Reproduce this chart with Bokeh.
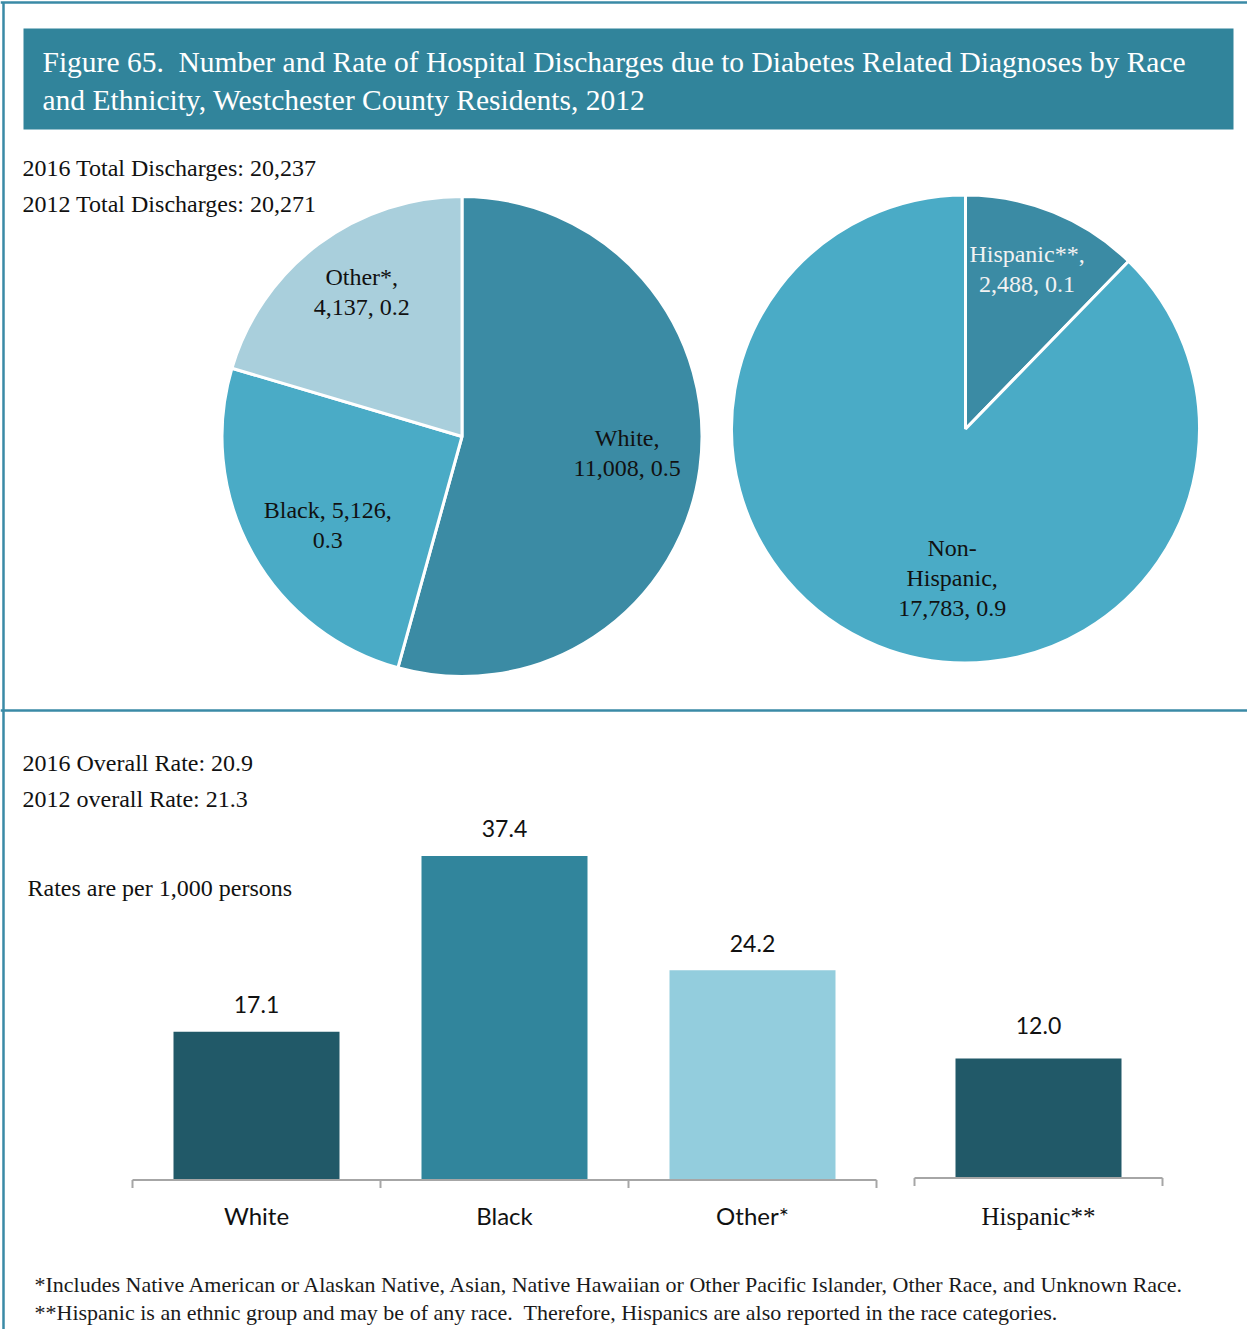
import math
import textwrap
from bokeh.plotting import figure
from bokeh.models import Range1d
from bokeh.core.properties import value
from bokeh.embed import file_html
from bokeh.resources import INLINE

# ---------------- data ----------------
TITLE_LINES = [
    "Figure 65.\u00a0 Number and Rate of Hospital Discharges due to Diabetes Related Diagnoses by Race",
    "and Ethnicity, Westchester County Residents, 2012",
]
TOTAL_LINES = ["2016 Total Discharges: 20,237", "2012 Total Discharges: 20,271"]
RATE_LINES = ["2016 Overall Rate: 20.9", "2012 overall Rate: 21.3"]
RATE_NOTE = "Rates are per 1,000 persons"
FOOTNOTES = [
    "*Includes Native American or Alaskan Native, Asian, Native Hawaiian or Other Pacific Islander, Other Race, and Unknown Race.",
    "**Hispanic is an ethnic group and may be of any race.\u00a0 Therefore, Hispanics are also reported in the race categories.",
]

race_names = ["White", "Black", "Other*"]
race_counts = [11008, 5126, 4137]

eth_names = ["Hispanic**", "Non-Hispanic"]
eth_counts = [2488, 17783]

bar_cats = ["White", "Black", "Other*", "Hispanic**"]
bar_groups = ["race", "race", "race", "ethnicity"]
bar_rates = [17.1, 37.4, 24.2, 12.0]

# ---------------- layout / style ----------------
W, H = 1247, 1329
SERIF = value("Liberation Serif")
SANS = value("Lato")
TEAL = "#31849b"


def X(sx):
    return sx


def Y(sy):
    return H - sy


p = figure(width=W, height=H, x_range=Range1d(0, W), y_range=Range1d(0, H),
           output_backend="svg", toolbar_location=None, min_border=0,
           x_axis_location=None, y_axis_location=None)
p.grid.visible = False
p.outline_line_color = None
p.background_fill_color = "white"

# frame lines
p.segment(x0=[0, 3, 0], y0=[Y(2), 0, Y(710)], x1=[W, 3, W], y1=[Y(2), Y(2), Y(710)],
          line_color="#3a8aa6", line_width=2.5)

# title bar
p.quad(left=[X(23)], right=[X(1233)], top=[Y(28)], bottom=[Y(129)], fill_color=TEAL, line_color=None)
p.text(x=[X(42)] * 2, y=[Y(61), Y(99)], text=TITLE_LINES, text_color="white",
       text_font=SERIF, text_font_size=value("29.5px"), text_baseline="middle", text_align="left")

# header texts
p.text(x=[X(22)] * 4 + [X(27)], y=[Y(167), Y(203), Y(762), Y(798), Y(887)],
       text=TOTAL_LINES + RATE_LINES + [RATE_NOTE], text_color="#111111",
       text_font=SERIF, text_font_size=value("24px"), text_baseline="middle", text_align="left")

# footnotes
p.text(x=[X(34)] * 2, y=[Y(1284), Y(1312)], text=FOOTNOTES, text_color="#1a1a1a",
       text_font=SERIF, text_font_size=value("22px"), text_baseline="middle", text_align="left")


# ---------------- pies ----------------
def draw_pie(names, counts, cx, cy, r, colors, label_r, label_delta, wrap_w, label_colors):
    total = sum(counts)
    cum = 0.0
    starts, ends = [], []
    for c in counts:
        f0 = cum / total
        cum += c
        f1 = cum / total
        starts.append(math.pi / 2 - 2 * math.pi * f1)
        ends.append(math.pi / 2 - 2 * math.pi * f0)
    p.wedge(x=[cx] * len(counts), y=[cy] * len(counts), radius=r,
            start_angle=starts, end_angle=ends, fill_color=colors,
            line_color="white", line_width=3)
    cum = 0.0
    lx, ly, lt, lc = [], [], [], []
    for i, (n, c) in enumerate(zip(names, counts)):
        mid = (cum + c / 2) / total * 360.0 + label_delta[i]
        cum += c
        th = math.radians(mid)
        px = cx + label_r[i] * math.sin(th)
        py = cy + label_r[i] * math.cos(th)
        label = f"{n}, {c:,}, {c / total:.1f}"
        lines = textwrap.wrap(label, width=wrap_w[i])
        nl = len(lines)
        for j, line in enumerate(lines):
            lx.append(px)
            ly.append(py - (j - (nl - 1) / 2) * 30)
            lt.append(line)
            lc.append(label_colors[i])
    p.text(x=lx, y=ly, text=lt, text_color=lc, text_font=SERIF,
           text_font_size=value("24px"), text_align="center", text_baseline="middle")


draw_pie(race_names, race_counts, X(461.5), Y(436), 240,
         ["#3b8ba4", "#4aabc6", "#a9cfdc"],
         [166, 161, 176], [-2, -4.5, 2], [11, 13, 10],
         ["#111111", "#111111", "#111111"])
draw_pie(eth_names, eth_counts, X(965), Y(428.5), 234,
         ["#3b8ba4", "#4aabc6"],
         [171, 150], [-1, -17], [11, 11],
         ["#f2f2f2", "#111111"])

# ---------------- bars ----------------
UNIT = 248.0          # px per category
GAP = 38.0 / UNIT     # gap between race and ethnicity charts
X0 = X(256)           # px centre of first category
p.extra_x_ranges = {"cat": Range1d(-X0 / UNIT, (W - X0) / UNIT)}
SCALE = {"race": 8.665, "ethnicity": 9.96}      # px per rate unit
BASE = {"race": Y(1179.5), "ethnicity": Y(1177.5)}
p.extra_y_ranges = {g: Range1d(-BASE[g] / SCALE[g], (H - BASE[g]) / SCALE[g]) for g in SCALE}

bar_colors = {"White": "#215968", "Black": "#31859c", "Other*": "#93cddd", "Hispanic**": "#215968"}
xpos = [i + (GAP if g == "ethnicity" else 0.0) for i, g in enumerate(bar_groups)]

for g in ["race", "ethnicity"]:
    idx = [i for i, gg in enumerate(bar_groups) if gg == g]
    xs = [xpos[i] for i in idx]
    rs = [bar_rates[i] for i in idx]
    cs = [bar_cats[i] for i in idx]
    s = SCALE[g]
    p.vbar(x=xs, top=rs, bottom=0, width=166 / UNIT, fill_color=[bar_colors[c] for c in cs],
           line_color=None, x_range_name="cat", y_range_name=g)
    # axis bracket
    left, right = min(xs) - 0.5, max(xs) + 0.5
    ticks = [x - 0.5 for x in xs] + [right]
    p.segment(x0=[left], y0=[0], x1=[right], y1=[0], line_color="#a6a6a6", line_width=2,
              x_range_name="cat", y_range_name=g)
    p.segment(x0=ticks, y0=[0] * len(ticks), x1=ticks, y1=[-8 / s] * len(ticks),
              line_color="#a6a6a6", line_width=2, x_range_name="cat", y_range_name=g)
    # value labels
    off = 27 if g == "race" else 33
    p.text(x=xs, y=[r + off / s for r in rs], text=[f"{r:.1f}" for r in rs], text_color="#111111",
           text_font=SANS, text_font_size=value("23px"), text_align="center", text_baseline="middle",
           x_range_name="cat", y_range_name=g)
    # category labels
    font = SANS if g == "race" else SERIF
    fsize = "24px" if g == "race" else "25px"
    p.text(x=xs, y=[-(35 if g == "race" else 38) / s] * len(xs), text=cs, text_color="#111111",
           text_font=font, text_font_size=value(fsize), text_align="center", text_baseline="middle",
           x_range_name="cat", y_range_name=g)

open("out.html", "w").write(file_html(p, INLINE))
